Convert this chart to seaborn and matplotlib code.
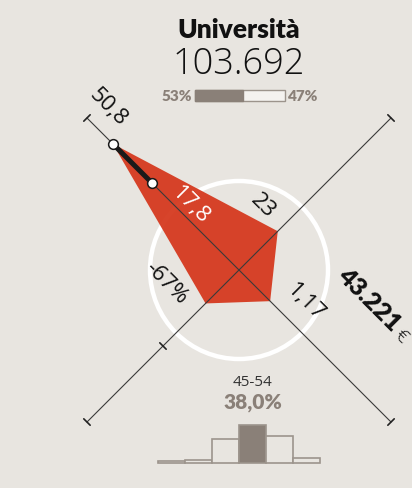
import matplotlib
matplotlib.use("Agg")
import matplotlib.pyplot as plt
from matplotlib.patches import Circle, Polygon
import seaborn as sns
import numpy as np
import pandas as pd

# values
title = "Università"
total = "103.692"
gender_share = [53, 47]

radar_dirs = ["NW", "NE", "SE", "SW"]
radar_labels = ["50,8", "23", "1,17", "-67%"]
radar_r = [0.83, 0.255, 0.205, 0.22]      # share of the axis length
inner_r = 0.57
inner_label = "17,8"
income = "43.221"

age_groups = ["15-24", "25-34", "35-44", "45-54", "55-64", "65+"]
age_share = [1.8, 2.8, 24.5, 38.0, 27.5, 5.4]
highlight = "45-54"

BG = "#E8E5E0"
RED = "#D5381D"
GREY = "#8A8078"
EDGE = "#9C948C"
INK = "#111111"
LIGHT = ["Open Sans", "DejaVu Sans"]

sns.set_style("white")
plt.rcParams["font.family"] = ["Lato", "DejaVu Sans"]

W, H = 412, 489
fig = plt.figure(figsize=(W / 100, H / 100), dpi=100, facecolor=BG)
ax = fig.add_axes([0, 0, 1, 1])
ax.set_xlim(0, W)
ax.set_ylim(H, 0)
ax.set_facecolor(BG)
ax.axis("off")

CX, CY, L = 239, 271, 215
unit = {k: np.array(v) / np.sqrt(2) for k, v in
        {"NW": (-1, -1), "NE": (1, -1), "SE": (1, 1), "SW": (-1, 1)}.items()}
centre = np.array([CX, CY])

def at(d, r, side=None, off=0):
    p = centre + unit[d] * r
    if side:
        p = p + unit[side] * off
    return p

# circle behind the shape
ax.add_patch(Circle((CX, CY), 89, fill=False, ec="white", lw=3.2, zorder=1))

# red shape
verts = [at(d, r * L) for d, r in zip(radar_dirs, radar_r)]
ax.add_patch(Polygon(verts, closed=True, fc=RED, ec="none", alpha=0.94, zorder=2))

# axes with end ticks
for a, b in [("NW", "SE"), ("NE", "SW")]:
    p0, p1 = at(a, L), at(b, L)
    ax.plot([p0[0], p1[0]], [p0[1], p1[1]], color="#3a3a3a", lw=0.8, zorder=3)
for d, perp in [("NW", "NE"), ("NE", "NW"), ("SE", "NE"), ("SW", "NW")]:
    for r in ([L, L / 2] if d == "SW" else [L]):
        q0, q1 = at(d, r, perp, 4.5), at(d, r, perp, -4.5)
        ax.plot([q0[0], q1[0]], [q0[1], q1[1]], color="#222222", lw=1.2, zorder=3)

# highlighted stretch on the NW axis
p_out, p_in = at("NW", radar_r[0] * L), at("NW", inner_r * L)
ax.plot([p_out[0], p_in[0]], [p_out[1], p_in[1]], color="#1a1a1a", lw=3.6,
        solid_capstyle="butt", zorder=4)
for p in (p_out, p_in):
    ax.plot(p[0], p[1], "o", ms=7, mfc="white", mec="#1a1a1a", mew=1.1, zorder=5)

# labels on the axes
lab_pos = [("NW", 208, "NE", 23), ("NE", 63, "NW", 29),
           ("SE", 69, "NE", 25), ("SW", 60, "NW", 43)]
for txt, (d, r, s, o) in zip(radar_labels, lab_pos):
    p = at(d, r, s, o)
    ax.text(p[0], p[1], txt, rotation=-45, rotation_mode="anchor",
            ha="center", va="center", fontsize=16, family=LIGHT,
            fontweight="normal", color=INK, zorder=6)
p = at("NW", 81, "NE", 12)
ax.text(p[0], p[1], inner_label, rotation=-45, rotation_mode="anchor",
        ha="center", va="center", fontsize=16, family=LIGHT,
        fontweight="normal", color="white", zorder=6)

ax.text(369, 300, income, rotation=-45, rotation_mode="anchor", ha="center",
        va="center", fontsize=18, fontweight="heavy", color=INK, zorder=6)
ax.text(401, 336, "€", rotation=-45, rotation_mode="anchor", ha="center",
        va="center", fontsize=14, family=LIGHT, fontweight="light",
        color=INK, zorder=6)

# header
ax.text(CX, 30, title, ha="center", va="center", fontsize=19,
        fontweight="heavy", color=INK)
ax.text(CX, 65, total, ha="center", va="center", fontsize=26,
        family=LIGHT, fontweight="light", color=INK)

bx, bw, by, bh = 195, 90, 96.5, 11
ax.barh(by, bw, left=bx, height=bh, color="#F4F2EF", edgecolor=EDGE, lw=1)
ax.barh(by, bw * gender_share[0] / 100, left=bx, height=bh, color=GREY,
        edgecolor=GREY, lw=1)
ax.text(bx - 3, by, f"{gender_share[0]}%", ha="right", va="center",
        fontsize=11, fontweight="heavy", color=GREY)
ax.text(bx + bw + 3, by, f"{gender_share[1]}%", ha="left", va="center",
        fontsize=11, fontweight="heavy", color=GREY)

# age distribution
hx, hw, hb = 158, 162, 464
hax = fig.add_axes([hx / W, (H - hb) / H, hw / W, 40 / H])
df = pd.DataFrame({"age": age_groups, "share": age_share})
pal = {g: (GREY if g == highlight else BG) for g in age_groups}
sns.barplot(data=df, x="age", y="share", hue="age", palette=pal, width=1.0,
            edgecolor=EDGE, linewidth=1.2, legend=False, saturation=1, ax=hax)
for bar in hax.patches:
    bar.set_clip_on(False)
hax.set_xlim(-0.5, len(age_groups) - 0.5)
hax.set_ylim(0, 40)
hax.axis("off")
hax.patch.set_alpha(0)

i = age_groups.index(highlight)
lx = hx + hw * (i + 0.5) / len(age_groups)
ax.text(lx, 383, highlight, ha="center", va="center", fontsize=11,
        family=LIGHT, color="#333333")
ax.text(lx, 403, f"{age_share[i]:.1f}%".replace(".", ","), ha="center",
        va="center", fontsize=15, fontweight="heavy", color=GREY)

fig.savefig("out.png", dpi=100, facecolor=BG)
